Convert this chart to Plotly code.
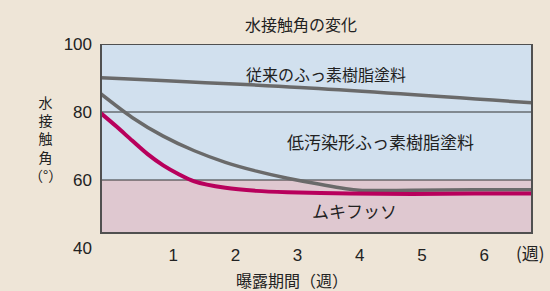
import plotly.graph_objects as go

# ---- data ----
weeks_conv = [0, 3.2, 6.93]
angle_conv = [90.1, 87.2, 82.7]

weeks_low = [0, 0.5, 1.0, 1.5, 2.0, 2.5, 3.0, 3.5, 4.15, 5.0, 6.0, 6.93]
angle_low = [85.3, 78.4, 72.9, 68.6, 65.2, 62.6, 60.5, 58.8, 57.0, 57.0, 57.1, 57.1]

weeks_muki = [0, 0.25, 0.5, 0.75, 1.0, 1.25, 1.5, 2.0, 2.5, 3.0, 4.0, 5.0, 6.0, 6.93]
angle_muki = [79.6, 75.7, 71.6, 67.6, 64.3, 61.7, 59.6, 57.7, 56.8, 56.4, 56.0, 55.9, 56.0, 56.0]

x_ticks = [1, 2, 3, 4, 5, 6]
y_ticks = [40, 60, 80, 100]

title_text = "水接触角の変化"
x_title = "曝露期間（週）"
y_title_chars = ["水", "接", "触", "角", "（°）"]
label_conv = "従来のふっ素樹脂塗料"
label_low = "低汚染形ふっ素樹脂塗料"
label_muki = "ムキフッソ"

FONT = "Noto Sans CJK JP"
GRAY = "#6a6a6a"
MAGENTA = "#b8005c"
TXT = "#222222"

fig = go.Figure()
fig.add_trace(go.Scatter(x=weeks_conv, y=angle_conv, mode="lines",
                         line=dict(color=GRAY, width=3.5, shape="spline"), hoverinfo="skip"))
fig.add_trace(go.Scatter(x=weeks_low, y=angle_low, mode="lines",
                         line=dict(color=GRAY, width=3.5, shape="spline", smoothing=0.8), hoverinfo="skip"))
fig.add_trace(go.Scatter(x=weeks_muki, y=angle_muki, mode="lines",
                         line=dict(color=MAGENTA, width=4, shape="spline", smoothing=0.8), hoverinfo="skip"))

bottom = 44.4
shapes = [
    dict(type="rect", xref="x domain", yref="y", x0=0, x1=1, y0=60, y1=100,
         fillcolor="#d1e0ee", line_width=0, layer="below"),
    dict(type="rect", xref="x domain", yref="y", x0=0, x1=1, y0=bottom, y1=60,
         fillcolor="#dfc8d0", line_width=0, layer="below"),
    dict(type="line", xref="x domain", yref="y", x0=0, x1=1, y0=80, y1=80,
         line=dict(color="#333333", width=1.2), layer="below"),
    dict(type="line", xref="x domain", yref="y", x0=0, x1=1, y0=60, y1=60,
         line=dict(color="#333333", width=1.2), layer="below"),
    dict(type="rect", xref="x domain", yref="y", x0=0, x1=1, y0=bottom, y1=100,
         fillcolor="rgba(0,0,0,0)", line=dict(color="#505050", width=2)),
]

W, H = 550, 291
L, R, T, B = 101, 18, 44, 43
pw, ph = W - L - R, H - T - B


def px(xp, yp):
    return (xp - L) / pw, (H - B - yp) / ph


def ann(text, x, y, size, xref="paper", yref="paper", **kw):
    d = dict(text=text, x=x, y=y, xref=xref, yref=yref, showarrow=False,
             xanchor="center", yanchor="middle",
             font=dict(size=size, color=TXT, family=FONT))
    d.update(kw)
    return d


annotations = [
    ann(label_conv, 3.62, 91.3, 16, "x", "y"),
    ann(label_low, 4.49, 71.2, 17, "x", "y"),
    ann(label_muki, 4.08, 51.0, 17, "x", "y"),
    ann(title_text, *px(300.5, 24), 16),
    ann(x_title, *px(291.5, 279.5), 16),
    ann("(週)", *px(530, 253), 17),
    ann("<br>".join(y_title_chars), *px(45, 138), 14),
]

fig.update_layout(
    width=W, height=H,
    margin=dict(l=L, r=R, t=T, b=B),
    paper_bgcolor="#eee5d7",
    plot_bgcolor="rgba(0,0,0,0)",
    showlegend=False,
    shapes=shapes,
    annotations=annotations,
    xaxis=dict(range=[0, 6.93], tickvals=x_ticks, showgrid=False, zeroline=False, showline=False,
               ticks="", ticklabelshift=10, ticklabelstandoff=-5,
               tickfont=dict(size=17, color=TXT, family="Liberation Sans")),
    yaxis=dict(range=[40, 100], tickvals=y_ticks, showgrid=False, zeroline=False, showline=False,
               ticks="", ticklabelstandoff=8,
               tickfont=dict(size=17, color=TXT, family="Liberation Sans")),
)

fig.write_html("out.html", config={"displayModeBar": False},
               post_script="document.body.style.margin='0';")
